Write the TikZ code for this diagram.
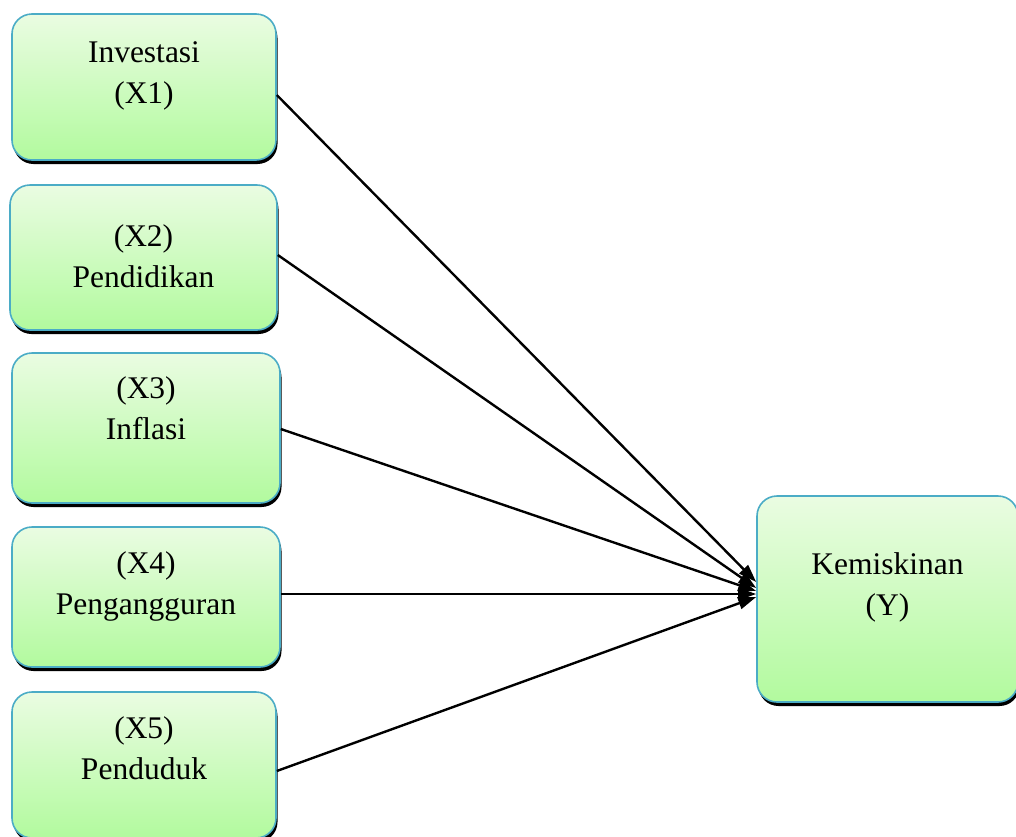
\documentclass[tikz,border=0pt]{standalone}
\usepackage{fontspec}
\setmainfont{Liberation Serif}
\usetikzlibrary{shadows,arrows.meta}
\definecolor{bordc}{RGB}{75,172,198}
\definecolor{topc}{RGB}{234,252,226}
\definecolor{botc}{RGB}{178,250,158}
\tikzset{
 box/.style={draw=bordc, line width=1.6pt, rounded corners=20pt, top color=topc, bottom color=botc, inner sep=0pt,
   drop shadow={shadow xshift=1.5pt, shadow yshift=-4pt, opacity=1, fill=black}},
 conn/.style={line width=2.4pt, -{Triangle[length=18pt,width=12pt]}}
}
\newcommand{\boxtext}[4]{\parbox[c][#2][t]{#1}{\centering\fontsize{31.5}{41}\selectfont\rule{0pt}{#3}#4}}
\begin{document}
\begin{tikzpicture}[x=1pt,y=-1pt]
\useasboundingbox (0,0) rectangle (1016,836);
\clip (0,0) rectangle (1016,836);
\node[box] (x1) at (144,87) {\boxtext{264pt}{146pt}{48pt}{Investasi\\(X1)}};
\node[box] (x2) at (143.5,257.5) {\boxtext{267pt}{145pt}{61pt}{(X2)\\Pendidikan}};
\node[box] (x3) at (146,428) {\boxtext{268pt}{150pt}{45pt}{(X3)\\Inflasi}};
\node[box] (x4) at (146,597) {\boxtext{268pt}{140pt}{46pt}{(X4)\\Pengangguran}};
\node[box] (x5) at (144,765) {\boxtext{264pt}{146pt}{46pt}{(X5)\\Penduduk}};
\node[box] (y) at (887.5,599) {\boxtext{261pt}{206pt}{78pt}{Kemiskinan\\(Y)}};
\draw[conn] ([yshift=-8pt]x1.east) -- ([yshift=17pt]y.west);
\draw[conn] ([yshift=2.5pt]x2.east) -- ([yshift=11pt]y.west);
\draw[conn] ([yshift=-1pt]x3.east) -- ([yshift=8pt]y.west);
\draw[conn] ([yshift=3pt]x4.east) -- ([yshift=5pt]y.west);
\draw[conn] ([yshift=-6pt]x5.east) -- ([yshift=2pt]y.west);
\end{tikzpicture}
\end{document}
